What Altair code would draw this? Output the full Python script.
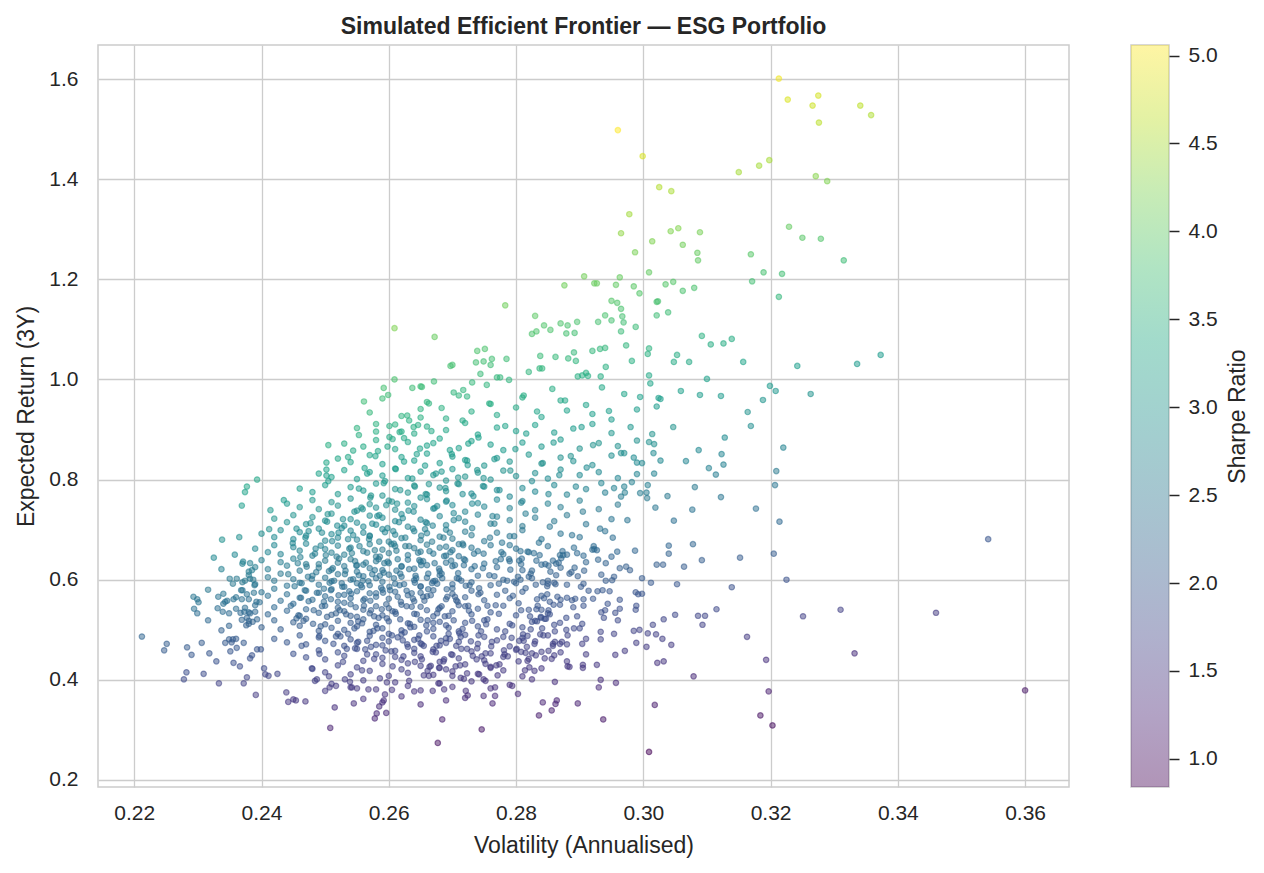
import altair as alt
import pandas as pd

# (volatility, expected return) pairs, grouped by region
upper_tail = [
    (0.2960, 1.498), (0.2999, 1.446), (0.3150, 1.414), (0.3025, 1.384), (0.3044, 1.376),
    (0.2978, 1.330), (0.2965, 1.292), (0.3043, 1.296), (0.3055, 1.302), (0.3089, 1.294),
    (0.3014, 1.276), (0.3062, 1.269), (0.2987, 1.254), (0.3085, 1.253), (0.3086, 1.238),
    (0.3009, 1.214), (0.2907, 1.206), (0.2963, 1.204), (0.2876, 1.188), (0.2923, 1.192),
    (0.2927, 1.192), (0.2957, 1.189), (0.2985, 1.186), (0.2994, 1.172), (0.3035, 1.190),
    (0.3047, 1.195), (0.3062, 1.177), (0.3080, 1.183), (0.2950, 1.157), (0.2959, 1.153),
    (0.3021, 1.155), (0.3023, 1.156), (0.2783, 1.148),
    (0.3213, 1.601), (0.3227, 1.559), (0.3275, 1.567), (0.3266, 1.547), (0.3341, 1.547),
    (0.3358, 1.528), (0.3276, 1.513), (0.3198, 1.438), (0.3182, 1.427), (0.3271, 1.406),
    (0.3289, 1.396), (0.3229, 1.305), (0.3250, 1.283), (0.3279, 1.281), (0.3169, 1.250),
    (0.3315, 1.238), (0.3189, 1.214), (0.3218, 1.211), (0.3171, 1.196), (0.3213, 1.165),
]

right_tail = [
    (0.3157, 1.035), (0.3242, 1.027), (0.3336, 1.031), (0.3373, 1.049), (0.3199, 0.987),
    (0.3208, 0.977), (0.3263, 0.971), (0.3188, 0.959), (0.3164, 0.935), (0.3169, 0.907),
    (0.3220, 0.864), (0.3209, 0.817), (0.3207, 0.789), (0.3177, 0.742), (0.3214, 0.716),
    (0.3542, 0.681), (0.3205, 0.652), (0.3225, 0.600), (0.3251, 0.527), (0.3310, 0.540),
    (0.3460, 0.534), (0.3163, 0.486), (0.3332, 0.453), (0.3193, 0.440), (0.3197, 0.377),
    (0.3600, 0.379), (0.3184, 0.329), (0.3203, 0.309),
]

upper_middle = [
    (0.2672, 1.085), (0.2739, 1.057), (0.2751, 1.061), (0.2697, 1.027), (0.2700, 1.029),
    (0.2737, 1.034), (0.2749, 1.036), (0.2762, 1.041), (0.2744, 1.011), (0.2760, 1.029),
    (0.2785, 1.041), (0.2770, 1.004), (0.2775, 1.004), (0.2731, 0.994), (0.2717, 0.979),
    (0.2723, 0.966), (0.2671, 0.996), (0.2652, 0.985), (0.2789, 0.999), (0.2830, 1.127),
    (0.2844, 1.108), (0.2854, 1.099), (0.2825, 1.091), (0.2832, 1.096), (0.2870, 1.112),
    (0.2881, 1.108), (0.2879, 1.092), (0.2892, 1.093), (0.2896, 1.115), (0.2929, 1.115),
    (0.2940, 1.128), (0.2950, 1.118), (0.2967, 1.126), (0.2969, 1.114), (0.2965, 1.096),
    (0.2988, 1.105), (0.2965, 1.141), (0.3039, 1.134), (0.3021, 1.128), (0.2973, 1.068),
    (0.2982, 1.037), (0.3009, 1.062), (0.3007, 1.051), (0.3009, 1.008), (0.3011, 0.992),
    (0.2920, 1.057), (0.2932, 1.061), (0.2940, 1.063), (0.2891, 1.054), (0.2894, 1.037),
    (0.2882, 1.042), (0.2862, 1.045), (0.2838, 1.047), (0.2837, 1.022), (0.2841, 1.022),
    (0.2820, 1.015), (0.2910, 1.013), (0.2913, 1.007), (0.2904, 1.008), (0.2897, 1.006),
    (0.2941, 1.025), (0.2933, 1.006), (0.2935, 0.984), (0.3053, 1.049), (0.3048, 1.035),
    (0.3072, 1.035), (0.3092, 1.087), (0.3106, 1.070), (0.3126, 1.072), (0.3139, 1.081),
    (0.3100, 1.001), (0.3059, 0.977), (0.3089, 0.969), (0.3122, 0.967), (0.3024, 0.963),
    (0.3027, 0.961), (0.3021, 0.946), (0.2995, 0.965), (0.3047, 0.905), (0.3014, 0.891),
    (0.3009, 0.875), (0.3017, 0.871), (0.3016, 0.853), (0.3027, 0.838), (0.3087, 0.859),
    (0.3067, 0.837), (0.3103, 0.823), (0.3123, 0.851), (0.3126, 0.830), (0.3114, 0.810),
    (0.3128, 0.884), (0.3081, 0.785), (0.3077, 0.740), (0.3048, 0.718), (0.3122, 0.765),
    (0.3038, 0.767), (0.3019, 0.744), (0.3005, 0.774), (0.3006, 0.763), (0.3007, 0.789),
    (0.3017, 0.812), (0.2998, 0.833), (0.2985, 0.844), (0.2965, 0.853), (0.2970, 0.853),
    (0.2982, 0.795), (0.2995, 0.773), (0.2965, 0.766), (0.2954, 0.783), (0.2971, 0.774),
]

left_arm = [
    (0.2609, 1.1025), (0.2609, 1.000), (0.2592, 0.983), (0.2599, 0.969), (0.2637, 0.983),
    (0.2650, 0.986), (0.2561, 0.956), (0.2629, 0.928), (0.2650, 0.924), (0.2580, 0.911),
    (0.2601, 0.907), (0.2639, 0.905), (0.2646, 0.909), (0.2553, 0.889), (0.2601, 0.885),
    (0.2617, 0.895), (0.2620, 0.896), (0.2505, 0.869), (0.2544, 0.858), (0.2536, 0.845),
    (0.2502, 0.834), (0.2502, 0.820), (0.2502, 0.808), (0.2505, 0.797), (0.2393, 0.800),
    (0.2377, 0.786), (0.2374, 0.775), (0.2369, 0.748), (0.2435, 0.759), (0.2414, 0.739),
    (0.2338, 0.680), (0.2365, 0.685), (0.2412, 0.701),
]

lower_right = [
    (0.3152, 0.644), (0.3092, 0.639), (0.3078, 0.671), (0.3040, 0.668), (0.3040, 0.652),
    (0.3021, 0.630), (0.3031, 0.630), (0.3064, 0.626), (0.3139, 0.585), (0.3053, 0.591),
    (0.3012, 0.594), (0.3115, 0.541), (0.3086, 0.528), (0.3097, 0.528), (0.3093, 0.510),
    (0.3050, 0.530), (0.3032, 0.521), (0.3015, 0.510), (0.3007, 0.493), (0.3020, 0.491),
    (0.3030, 0.482), (0.3044, 0.470), (0.3005, 0.466), (0.3022, 0.434), (0.3032, 0.437),
    (0.3079, 0.407), (0.3018, 0.350), (0.3009, 0.256), (0.2937, 0.321), (0.2897, 0.353),
    (0.2842, 0.355), (0.2862, 0.352), (0.2864, 0.359), (0.2856, 0.339), (0.2836, 0.329),
    (0.2930, 0.385), (0.2933, 0.400), (0.2957, 0.394), (0.2861, 0.396), (0.2825, 0.401),
    (0.2803, 0.372), (0.2794, 0.388), (0.2927, 0.430), (0.2905, 0.430), (0.2905, 0.424),
    (0.2881, 0.427), (0.2884, 0.426), (0.2956, 0.450), (0.2971, 0.458), (0.2989, 0.474),
    (0.2985, 0.498), (0.2994, 0.500), (0.2954, 0.492), (0.2933, 0.496), (0.2933, 0.481),
    (0.2904, 0.472), (0.2870, 0.455), (0.2851, 0.458), (0.2861, 0.497), (0.2891, 0.503),
    (0.2879, 0.500), (0.2881, 0.489), (0.2904, 0.512), (0.2896, 0.527), (0.2940, 0.539),
    (0.2934, 0.535), (0.2938, 0.524), (0.2956, 0.534), (0.2963, 0.542), (0.2960, 0.519),
    (0.2988, 0.540), (0.2989, 0.548), (0.2963, 0.560), (0.2992, 0.571), (0.2998, 0.572),
    (0.2988, 0.575), (0.2947, 0.577), (0.2936, 0.579), (0.2928, 0.577), (0.2921, 0.562),
    (0.2906, 0.561), (0.2906, 0.548), (0.2893, 0.562), (0.2888, 0.559), (0.2880, 0.564),
    (0.2934, 0.610), (0.2954, 0.606), (0.2951, 0.599), (0.2941, 0.598), (0.2973, 0.626),
    (0.2979, 0.619), (0.2906, 0.592), (0.2902, 0.586), (0.2892, 0.624), (0.2887, 0.615),
    (0.2884, 0.612), (0.2907, 0.618), (0.2929, 0.640), (0.2941, 0.633), (0.2950, 0.646),
    (0.2959, 0.656), (0.2922, 0.667), (0.2927, 0.659), (0.2906, 0.648), (0.2896, 0.653),
    (0.2891, 0.664),
]

lower_middle = [
    (0.2669, 0.378), (0.2687, 0.381), (0.2684, 0.321), (0.2677, 0.274), (0.2746, 0.301),
    (0.2721, 0.378), (0.2724, 0.369), (0.2749, 0.368), (0.2763, 0.353), (0.2767, 0.368),
    (0.2767, 0.385), (0.2749, 0.401), (0.2752, 0.398), (0.2742, 0.411), (0.2760, 0.424),
    (0.2774, 0.431), (0.2746, 0.447), (0.2713, 0.404), (0.2718, 0.402), (0.2700, 0.408),
    (0.2690, 0.421), (0.2679, 0.424), (0.2666, 0.428), (0.2655, 0.409), (0.2663, 0.408),
    (0.2851, 0.539), (0.2845, 0.522), (0.2839, 0.524), (0.2833, 0.517), (0.2861, 0.476),
    (0.2869, 0.472), (0.2858, 0.472), (0.2825, 0.453), (0.2815, 0.454), (0.2831, 0.449),
    (0.2808, 0.456), (0.2812, 0.478), (0.2805, 0.478), (0.2821, 0.425), (0.2814, 0.419),
    (0.2823, 0.501), (0.2818, 0.488), (0.2838, 0.491), (0.2839, 0.526), (0.2847, 0.522),
    (0.2825, 0.516), (0.2834, 0.548), (0.2832, 0.541), (0.2840, 0.540), (0.2853, 0.556),
    (0.2849, 0.571), (0.2865, 0.566), (0.2869, 0.550), (0.2859, 0.550), (0.2860, 0.594),
    (0.2850, 0.592), (0.2842, 0.595), (0.2831, 0.590), (0.2825, 0.603), (0.2863, 0.632),
    (0.2867, 0.634), (0.2869, 0.649), (0.2873, 0.657), (0.2874, 0.649), (0.2854, 0.616),
    (0.2851, 0.628), (0.2846, 0.631), (0.2858, 0.638), (0.2832, 0.638), (0.2828, 0.653),
    (0.2818, 0.656), (0.2809, 0.642), (0.2807, 0.657), (0.2805, 0.638), (0.2803, 0.606),
    (0.2807, 0.600), (0.2791, 0.620),
]

left_tail = [
    (0.2212, 0.4865), (0.2251, 0.472), (0.2247, 0.459), (0.2283, 0.465), (0.2290, 0.450),
    (0.2278, 0.401), (0.2282, 0.415), (0.2309, 0.412), (0.2306, 0.474), (0.2318, 0.453),
    (0.2329, 0.437), (0.2333, 0.393), (0.2356, 0.434), (0.2366, 0.427), (0.2372, 0.393),
    (0.2377, 0.405), (0.2391, 0.370), (0.2382, 0.443), (0.2385, 0.449), (0.2393, 0.461),
    (0.2399, 0.461), (0.2343, 0.474), (0.2349, 0.481), (0.2355, 0.481), (0.2360, 0.482),
    (0.2353, 0.475), (0.2372, 0.474), (0.2361, 0.464), (0.2351, 0.457), (0.2337, 0.499),
    (0.2349, 0.508), (0.2316, 0.519), (0.2294, 0.542), (0.2299, 0.533), (0.2293, 0.566),
    (0.2301, 0.555), (0.2299, 0.561), (0.2316, 0.580), (0.2332, 0.566), (0.2331, 0.543),
    (0.2343, 0.556), (0.2340, 0.552), (0.2346, 0.558), (0.2356, 0.561), (0.2349, 0.533),
    (0.2339, 0.536), (0.2325, 0.644), (0.2337, 0.621), (0.2358, 0.650), (0.2371, 0.636),
    (0.2382, 0.633), (0.2385, 0.619), (0.2380, 0.616), (0.2355, 0.592), (0.2361, 0.602),
    (0.2374, 0.598), (0.2382, 0.602), (0.2387, 0.600), (0.2389, 0.589), (0.2368, 0.579),
    (0.2377, 0.571), (0.2388, 0.574), (0.2369, 0.561), (0.2374, 0.544), (0.2367, 0.534),
    (0.2373, 0.536), (0.2382, 0.533), (0.2377, 0.524), (0.2369, 0.520), (0.2386, 0.516),
    (0.2376, 0.509), (0.2380, 0.518), (0.2393, 0.521), (0.2390, 0.536), (0.2397, 0.555),
    (0.2392, 0.556),
]

bottom_fringe = [
    (0.2439, 0.375), (0.2442, 0.356), (0.2450, 0.361), (0.2454, 0.359), (0.2469, 0.357),
    (0.2515, 0.345), (0.2508, 0.304), (0.2545, 0.353), (0.2578, 0.323), (0.2581, 0.333),
    (0.2585, 0.347), (0.2596, 0.334), (0.2592, 0.359), (0.2594, 0.371), (0.2640, 0.377),
    (0.2406, 0.411), (0.2411, 0.408), (0.2425, 0.412), (0.2404, 0.423), (0.2484, 0.398),
    (0.2487, 0.401), (0.2500, 0.378), (0.2507, 0.385), (0.2517, 0.388), (0.2531, 0.401),
    (0.2542, 0.385), (0.2550, 0.383), (0.2568, 0.381), (0.2597, 0.395), (0.2605, 0.380),
]

# dense body, estimated band by band (returns 0.96 down to 0.78)
core_upper = [
    (0.259, 0.962), (0.266, 0.955), (0.271, 0.968), (0.276, 0.951), (0.281, 0.964), (0.287, 0.958),
    (0.291, 0.949), (0.297, 0.971),
    (0.257, 0.934), (0.262, 0.927), (0.265, 0.941), (0.269, 0.922), (0.273, 0.936), (0.277, 0.929),
    (0.280, 0.944), (0.284, 0.925), (0.288, 0.938), (0.292, 0.931), (0.295, 0.920), (0.299, 0.940),
    (0.255, 0.903), (0.258, 0.896), (0.261, 0.910), (0.264, 0.892), (0.266, 0.906), (0.269, 0.899),
    (0.272, 0.913), (0.274, 0.890), (0.277, 0.904), (0.280, 0.897), (0.283, 0.909), (0.286, 0.894),
    (0.289, 0.902), (0.292, 0.911), (0.295, 0.893), (0.298, 0.905),
    (0.253, 0.872), (0.256, 0.866), (0.258, 0.879), (0.261, 0.861), (0.263, 0.875), (0.266, 0.868),
    (0.268, 0.882), (0.271, 0.863), (0.273, 0.877), (0.276, 0.870), (0.278, 0.859), (0.281, 0.874),
    (0.284, 0.866), (0.287, 0.880), (0.290, 0.862), (0.293, 0.873), (0.296, 0.867), (0.299, 0.878),
    (0.252, 0.842), (0.254, 0.835), (0.257, 0.849), (0.259, 0.831), (0.262, 0.845), (0.264, 0.838),
    (0.266, 0.852), (0.268, 0.833), (0.270, 0.846), (0.272, 0.839), (0.275, 0.828), (0.277, 0.843),
    (0.279, 0.836), (0.282, 0.850), (0.284, 0.832), (0.287, 0.844), (0.289, 0.837), (0.292, 0.829),
    (0.295, 0.848), (0.299, 0.834),
    (0.249, 0.812), (0.251, 0.805), (0.253, 0.819), (0.255, 0.801), (0.257, 0.815), (0.259, 0.808),
    (0.261, 0.822), (0.263, 0.803), (0.265, 0.816), (0.267, 0.809), (0.269, 0.798), (0.270, 0.821),
    (0.272, 0.806), (0.274, 0.814), (0.276, 0.800), (0.278, 0.818), (0.280, 0.807), (0.283, 0.813),
    (0.285, 0.802), (0.287, 0.820), (0.290, 0.809), (0.293, 0.815), (0.296, 0.803), (0.299, 0.811),
    (0.246, 0.782), (0.248, 0.775), (0.250, 0.789), (0.252, 0.771), (0.254, 0.785), (0.256, 0.778),
    (0.258, 0.792), (0.259, 0.768), (0.261, 0.781), (0.263, 0.774), (0.264, 0.788), (0.266, 0.770),
    (0.268, 0.784), (0.269, 0.777), (0.271, 0.791), (0.273, 0.772), (0.275, 0.786), (0.277, 0.779),
    (0.279, 0.766), (0.281, 0.783), (0.283, 0.776), (0.286, 0.789), (0.288, 0.770), (0.291, 0.781),
    (0.294, 0.774), (0.297, 0.786),
]

# returns 0.75 down to 0.57
core_middle = [
    (0.244, 0.752), (0.246, 0.745), (0.248, 0.759), (0.249, 0.741), (0.251, 0.755), (0.252, 0.748),
    (0.254, 0.762), (0.255, 0.738), (0.257, 0.751), (0.258, 0.744), (0.260, 0.758), (0.261, 0.740),
    (0.263, 0.754), (0.264, 0.747), (0.266, 0.761), (0.267, 0.742), (0.269, 0.756), (0.270, 0.749),
    (0.272, 0.736), (0.274, 0.753), (0.275, 0.746), (0.277, 0.760), (0.279, 0.743), (0.281, 0.757),
    (0.283, 0.739), (0.285, 0.752), (0.287, 0.745), (0.290, 0.758), (0.293, 0.741), (0.296, 0.750),
    (0.242, 0.722), (0.244, 0.715), (0.245, 0.729), (0.247, 0.711), (0.248, 0.725), (0.250, 0.718),
    (0.251, 0.732), (0.253, 0.708), (0.254, 0.721), (0.255, 0.714), (0.257, 0.728), (0.258, 0.710),
    (0.259, 0.724), (0.261, 0.717), (0.262, 0.731), (0.263, 0.706), (0.265, 0.720), (0.266, 0.713),
    (0.268, 0.727), (0.269, 0.709), (0.271, 0.723), (0.272, 0.716), (0.274, 0.730), (0.276, 0.712),
    (0.277, 0.726), (0.279, 0.719), (0.281, 0.707), (0.283, 0.724), (0.286, 0.717), (0.288, 0.729),
    (0.291, 0.711), (0.295, 0.721),
    (0.240, 0.692), (0.242, 0.685), (0.243, 0.699), (0.245, 0.681), (0.246, 0.695), (0.247, 0.688),
    (0.249, 0.702), (0.250, 0.678), (0.251, 0.691), (0.252, 0.684), (0.254, 0.698), (0.255, 0.680),
    (0.256, 0.694), (0.257, 0.687), (0.259, 0.701), (0.260, 0.676), (0.261, 0.690), (0.262, 0.683),
    (0.264, 0.697), (0.265, 0.679), (0.266, 0.693), (0.268, 0.686), (0.269, 0.700), (0.270, 0.682),
    (0.272, 0.696), (0.273, 0.689), (0.275, 0.677), (0.277, 0.694), (0.279, 0.687), (0.281, 0.699),
    (0.284, 0.681), (0.287, 0.692), (0.290, 0.685), (0.294, 0.697),
    (0.239, 0.662), (0.241, 0.655), (0.242, 0.669), (0.243, 0.651), (0.245, 0.665), (0.246, 0.658),
    (0.247, 0.672), (0.248, 0.648), (0.250, 0.661), (0.251, 0.654), (0.252, 0.668), (0.253, 0.650),
    (0.254, 0.664), (0.256, 0.657), (0.257, 0.671), (0.258, 0.646), (0.259, 0.660), (0.260, 0.653),
    (0.261, 0.667), (0.263, 0.649), (0.264, 0.663), (0.265, 0.656), (0.266, 0.670), (0.267, 0.652),
    (0.269, 0.666), (0.270, 0.659), (0.271, 0.647), (0.273, 0.664), (0.274, 0.657), (0.276, 0.669),
    (0.278, 0.651), (0.280, 0.662), (0.282, 0.655), (0.285, 0.667), (0.288, 0.650), (0.292, 0.660),
    (0.237, 0.632), (0.239, 0.625), (0.240, 0.639), (0.241, 0.621), (0.243, 0.635), (0.244, 0.628),
    (0.245, 0.642), (0.246, 0.618), (0.247, 0.631), (0.249, 0.624), (0.250, 0.638), (0.251, 0.620),
    (0.252, 0.634), (0.253, 0.627), (0.254, 0.641), (0.255, 0.616), (0.256, 0.630), (0.257, 0.623),
    (0.258, 0.637), (0.259, 0.619), (0.260, 0.633), (0.262, 0.626), (0.263, 0.640), (0.264, 0.622),
    (0.265, 0.636), (0.266, 0.629), (0.268, 0.617), (0.269, 0.634), (0.270, 0.627), (0.272, 0.639),
    (0.273, 0.621), (0.275, 0.632), (0.277, 0.625), (0.279, 0.637), (0.281, 0.619), (0.284, 0.630),
    (0.287, 0.624), (0.291, 0.635),
    (0.235, 0.602), (0.237, 0.595), (0.238, 0.609), (0.239, 0.591), (0.241, 0.605), (0.242, 0.598),
    (0.243, 0.612), (0.244, 0.588), (0.245, 0.601), (0.246, 0.594), (0.248, 0.608), (0.249, 0.590),
    (0.250, 0.604), (0.251, 0.597), (0.252, 0.611), (0.253, 0.586), (0.254, 0.600), (0.255, 0.593),
    (0.256, 0.607), (0.257, 0.589), (0.258, 0.603), (0.259, 0.596), (0.260, 0.610), (0.261, 0.592),
    (0.262, 0.606), (0.264, 0.599), (0.265, 0.587), (0.266, 0.604), (0.267, 0.597), (0.268, 0.609),
    (0.270, 0.591), (0.271, 0.602), (0.273, 0.595), (0.274, 0.608), (0.276, 0.589), (0.278, 0.600),
    (0.280, 0.593), (0.282, 0.606), (0.285, 0.598), (0.288, 0.590),
    (0.234, 0.572), (0.236, 0.565), (0.237, 0.579), (0.238, 0.561), (0.240, 0.575), (0.241, 0.568),
    (0.242, 0.582), (0.243, 0.558), (0.244, 0.571), (0.246, 0.564), (0.247, 0.578), (0.248, 0.560),
    (0.249, 0.574), (0.250, 0.567), (0.251, 0.581), (0.252, 0.556), (0.253, 0.570), (0.254, 0.563),
    (0.255, 0.577), (0.256, 0.559), (0.257, 0.573), (0.258, 0.566), (0.259, 0.580), (0.260, 0.562),
    (0.261, 0.576), (0.263, 0.569), (0.264, 0.557), (0.265, 0.574), (0.266, 0.567), (0.267, 0.579),
    (0.269, 0.561), (0.270, 0.572), (0.272, 0.565), (0.273, 0.578), (0.275, 0.559), (0.277, 0.570),
    (0.279, 0.563), (0.281, 0.576), (0.284, 0.568), (0.287, 0.560),
]

# returns 0.54 down to 0.36
core_lower = [
    (0.236, 0.542), (0.238, 0.535), (0.239, 0.549), (0.241, 0.531), (0.242, 0.545), (0.244, 0.538),
    (0.245, 0.552), (0.246, 0.528), (0.247, 0.541), (0.249, 0.534), (0.250, 0.548), (0.251, 0.530),
    (0.252, 0.544), (0.253, 0.537), (0.254, 0.551), (0.255, 0.526), (0.256, 0.540), (0.257, 0.533),
    (0.258, 0.547), (0.259, 0.529), (0.260, 0.543), (0.261, 0.536), (0.262, 0.550), (0.264, 0.532),
    (0.265, 0.546), (0.266, 0.539), (0.267, 0.527), (0.268, 0.544), (0.270, 0.537), (0.271, 0.549),
    (0.273, 0.531), (0.274, 0.542), (0.276, 0.535), (0.278, 0.548), (0.280, 0.529), (0.282, 0.540),
    (0.285, 0.533), (0.289, 0.545),
    (0.238, 0.512), (0.240, 0.505), (0.242, 0.519), (0.243, 0.501), (0.245, 0.515), (0.246, 0.508),
    (0.247, 0.522), (0.249, 0.498), (0.250, 0.511), (0.251, 0.504), (0.252, 0.518), (0.253, 0.500),
    (0.254, 0.514), (0.255, 0.507), (0.256, 0.521), (0.257, 0.496), (0.258, 0.510), (0.259, 0.503),
    (0.260, 0.517), (0.262, 0.499), (0.263, 0.513), (0.264, 0.506), (0.265, 0.520), (0.267, 0.502),
    (0.268, 0.516), (0.269, 0.509), (0.271, 0.497), (0.272, 0.514), (0.274, 0.507), (0.275, 0.519),
    (0.277, 0.501), (0.279, 0.512), (0.281, 0.505), (0.283, 0.518), (0.286, 0.510), (0.290, 0.503),
    (0.242, 0.482), (0.244, 0.475), (0.246, 0.489), (0.247, 0.471), (0.249, 0.485), (0.250, 0.478),
    (0.252, 0.492), (0.253, 0.468), (0.254, 0.481), (0.255, 0.474), (0.257, 0.488), (0.258, 0.470),
    (0.259, 0.484), (0.260, 0.477), (0.262, 0.491), (0.263, 0.466), (0.264, 0.480), (0.265, 0.473),
    (0.267, 0.487), (0.268, 0.469), (0.269, 0.483), (0.271, 0.476), (0.272, 0.490), (0.274, 0.472),
    (0.275, 0.486), (0.277, 0.479), (0.279, 0.467), (0.281, 0.484), (0.283, 0.477), (0.285, 0.489),
    (0.288, 0.471), (0.291, 0.482),
    (0.245, 0.452), (0.247, 0.445), (0.249, 0.459), (0.250, 0.441), (0.252, 0.455), (0.253, 0.448),
    (0.255, 0.462), (0.256, 0.438), (0.258, 0.451), (0.259, 0.444), (0.261, 0.458), (0.262, 0.440),
    (0.264, 0.454), (0.265, 0.447), (0.267, 0.461), (0.268, 0.436), (0.270, 0.450), (0.271, 0.443),
    (0.273, 0.457), (0.275, 0.439), (0.276, 0.453), (0.278, 0.446), (0.280, 0.460), (0.282, 0.442),
    (0.284, 0.456), (0.286, 0.449), (0.288, 0.437), (0.291, 0.451),
    (0.248, 0.422), (0.250, 0.415), (0.252, 0.429), (0.254, 0.411), (0.255, 0.425), (0.257, 0.418),
    (0.259, 0.432), (0.260, 0.408), (0.262, 0.421), (0.263, 0.414), (0.265, 0.428), (0.267, 0.410),
    (0.268, 0.424), (0.270, 0.417), (0.272, 0.431), (0.274, 0.412), (0.276, 0.426), (0.278, 0.419),
    (0.281, 0.407), (0.284, 0.423),
    (0.251, 0.392), (0.254, 0.385), (0.256, 0.399), (0.258, 0.381), (0.261, 0.395), (0.263, 0.388),
    (0.265, 0.379), (0.268, 0.393), (0.270, 0.386), (0.273, 0.397), (0.276, 0.383), (0.279, 0.390),
    (0.256, 0.362), (0.259, 0.355), (0.262, 0.367), (0.265, 0.351), (0.269, 0.359), (0.272, 0.364),
]

# extra points where the cloud is thickest (vol 0.245-0.28, return 0.46-0.75)
core_dense = [
    (0.2495, 0.547), (0.2512, 0.623), (0.2527, 0.586), (0.2538, 0.662), (0.2546, 0.503),
    (0.2553, 0.609), (0.2561, 0.548), (0.2569, 0.681), (0.2577, 0.527), (0.2584, 0.641),
    (0.2591, 0.574), (0.2598, 0.703), (0.2605, 0.489), (0.2612, 0.618), (0.2619, 0.556),
    (0.2626, 0.667), (0.2633, 0.512), (0.2641, 0.594), (0.2648, 0.639), (0.2655, 0.468),
    (0.2662, 0.581), (0.2669, 0.708), (0.2676, 0.533), (0.2683, 0.612), (0.2690, 0.474),
    (0.2697, 0.655), (0.2704, 0.566), (0.2711, 0.493), (0.2718, 0.629), (0.2725, 0.548),
    (0.2509, 0.579), (0.2521, 0.694), (0.2533, 0.531), (0.2547, 0.637), (0.2558, 0.585),
    (0.2572, 0.466), (0.2586, 0.608), (0.2597, 0.523), (0.2608, 0.672), (0.2617, 0.589),
    (0.2629, 0.471), (0.2638, 0.562), (0.2651, 0.688), (0.2659, 0.509), (0.2673, 0.598),
    (0.2687, 0.647), (0.2694, 0.528), (0.2707, 0.603), (0.2716, 0.672), (0.2729, 0.477),
    (0.2742, 0.583), (0.2755, 0.521), (0.2768, 0.637), (0.2781, 0.459), (0.2473, 0.606),
    (0.2462, 0.564), (0.2484, 0.652), (0.2455, 0.523), (0.2491, 0.488), (0.2503, 0.716),
    (0.2457, 0.633), (0.2468, 0.579), (0.2474, 0.697), (0.2481, 0.512), (0.2486, 0.615),
    (0.2493, 0.668), (0.2498, 0.556), (0.2504, 0.731), (0.2507, 0.594), (0.2513, 0.472),
    (0.2518, 0.646), (0.2523, 0.539), (0.2526, 0.703), (0.2531, 0.611), (0.2536, 0.492),
    (0.2541, 0.572), (0.2544, 0.689), (0.2549, 0.628), (0.2552, 0.517), (0.2557, 0.744),
    (0.2559, 0.598), (0.2563, 0.461), (0.2566, 0.654), (0.2571, 0.558), (0.2574, 0.712),
    (0.2578, 0.619), (0.2582, 0.503), (0.2585, 0.676), (0.2589, 0.541), (0.2593, 0.633),
    (0.2596, 0.749), (0.2601, 0.586), (0.2604, 0.457), (0.2607, 0.697), (0.2611, 0.532),
    (0.2614, 0.641), (0.2618, 0.612), (0.2622, 0.723), (0.2625, 0.495), (0.2628, 0.578),
    (0.2632, 0.667), (0.2636, 0.546), (0.2639, 0.736), (0.2643, 0.603), (0.2646, 0.482),
    (0.2651, 0.629), (0.2654, 0.566), (0.2657, 0.701), (0.2661, 0.519), (0.2664, 0.657),
    (0.2668, 0.593), (0.2672, 0.743), (0.2675, 0.468), (0.2679, 0.622), (0.2683, 0.547),
    (0.2686, 0.684), (0.2691, 0.581), (0.2694, 0.504), (0.2698, 0.638), (0.2702, 0.719),
    (0.2706, 0.559), (0.2709, 0.613), (0.2713, 0.486), (0.2717, 0.669), (0.2721, 0.588),
    (0.2726, 0.538), (0.2731, 0.703), (0.2735, 0.627), (0.2739, 0.463), (0.2744, 0.574),
    (0.2749, 0.652), (0.2753, 0.511), (0.2758, 0.609), (0.2763, 0.727), (0.2768, 0.549),
    (0.2773, 0.592), (0.2778, 0.674), (0.2783, 0.497), (0.2789, 0.641), (0.2795, 0.568),
]

# a further layer over the heaviest part of the cloud
core_heavy = [
    (0.2442, 0.611), (0.2446, 0.548), (0.2449, 0.673), (0.2452, 0.587), (0.2455, 0.702),
    (0.2458, 0.529), (0.2461, 0.645), (0.2463, 0.593), (0.2466, 0.518), (0.2469, 0.684),
    (0.2471, 0.626), (0.2474, 0.557), (0.2477, 0.713), (0.2479, 0.601), (0.2482, 0.539),
    (0.2485, 0.662), (0.2487, 0.574), (0.2490, 0.631), (0.2493, 0.507), (0.2495, 0.694),
    (0.2498, 0.582), (0.2501, 0.649), (0.2503, 0.526), (0.2506, 0.617), (0.2509, 0.561),
    (0.2511, 0.677), (0.2514, 0.598), (0.2517, 0.533), (0.2519, 0.708), (0.2521, 0.569),
    (0.2522, 0.642), (0.2524, 0.487), (0.2526, 0.593), (0.2528, 0.721), (0.2530, 0.554),
    (0.2532, 0.618), (0.2534, 0.462), (0.2536, 0.681), (0.2538, 0.577), (0.2540, 0.528),
    (0.2542, 0.653), (0.2544, 0.601), (0.2546, 0.736), (0.2548, 0.545), (0.2550, 0.629),
    (0.2552, 0.476), (0.2554, 0.667), (0.2556, 0.589), (0.2558, 0.513), (0.2560, 0.706),
    (0.2562, 0.562), (0.2564, 0.634), (0.2566, 0.451), (0.2568, 0.597), (0.2570, 0.688),
    (0.2572, 0.539), (0.2574, 0.611), (0.2576, 0.498), (0.2578, 0.659), (0.2580, 0.573),
    (0.2582, 0.727), (0.2584, 0.524), (0.2586, 0.646), (0.2588, 0.584), (0.2590, 0.469),
    (0.2592, 0.614), (0.2594, 0.695), (0.2596, 0.551), (0.2598, 0.636), (0.2600, 0.492),
    (0.2602, 0.579), (0.2604, 0.671), (0.2606, 0.537), (0.2608, 0.603), (0.2610, 0.446),
    (0.2612, 0.658), (0.2614, 0.566), (0.2616, 0.715), (0.2618, 0.521), (0.2620, 0.627),
    (0.2622, 0.479), (0.2624, 0.591), (0.2626, 0.684), (0.2628, 0.547), (0.2630, 0.433),
    (0.2632, 0.621), (0.2634, 0.505), (0.2636, 0.573), (0.2638, 0.702), (0.2640, 0.462),
    (0.2642, 0.608), (0.2644, 0.531), (0.2646, 0.654), (0.2648, 0.489), (0.2650, 0.586),
    (0.2652, 0.441), (0.2654, 0.637), (0.2656, 0.558), (0.2658, 0.715), (0.2660, 0.497),
    (0.2662, 0.612), (0.2664, 0.426), (0.2666, 0.569), (0.2668, 0.676), (0.2670, 0.514),
    (0.2672, 0.633), (0.2674, 0.455), (0.2676, 0.592), (0.2678, 0.541), (0.2680, 0.664),
    (0.2682, 0.478), (0.2684, 0.603), (0.2686, 0.437), (0.2688, 0.527), (0.2690, 0.648),
    (0.2692, 0.566), (0.2694, 0.492), (0.2696, 0.694), (0.2698, 0.451), (0.2700, 0.583),
    (0.2702, 0.519), (0.2704, 0.629), (0.2706, 0.468), (0.2708, 0.556), (0.2710, 0.671),
    (0.2712, 0.429), (0.2714, 0.598), (0.2716, 0.502), (0.2718, 0.641), (0.2720, 0.547),
    (0.2723, 0.462), (0.2727, 0.589), (0.2731, 0.518), (0.2734, 0.652), (0.2738, 0.441),
    (0.2741, 0.571), (0.2745, 0.497), (0.2748, 0.623), (0.2752, 0.453), (0.2755, 0.548),
    (0.2759, 0.684), (0.2762, 0.476), (0.2766, 0.607), (0.2769, 0.429), (0.2773, 0.532),
    (0.2776, 0.641), (0.2780, 0.486), (0.2783, 0.578), (0.2787, 0.447), (0.2790, 0.669),
    (0.2794, 0.509), (0.2797, 0.596), (0.2801, 0.462), (0.2804, 0.553), (0.2808, 0.631),
    (0.2811, 0.491), (0.2815, 0.583), (0.2818, 0.438), (0.2822, 0.527), (0.2825, 0.618),
    (0.2829, 0.472), (0.2833, 0.561), (0.2837, 0.649), (0.2841, 0.503), (0.2845, 0.443),
    (0.2849, 0.587), (0.2853, 0.531), (0.2858, 0.468), (0.2863, 0.609), (0.2869, 0.514),
    (0.2553, 0.782), (0.2559, 0.741), (0.2566, 0.812), (0.2572, 0.768), (0.2579, 0.847),
    (0.2585, 0.729), (0.2592, 0.793), (0.2598, 0.866), (0.2605, 0.756), (0.2611, 0.821),
    (0.2618, 0.779), (0.2624, 0.883), (0.2631, 0.738), (0.2637, 0.802), (0.2644, 0.851),
    (0.2650, 0.764), (0.2657, 0.828), (0.2663, 0.791), (0.2670, 0.873), (0.2676, 0.747),
    (0.2683, 0.816), (0.2689, 0.783), (0.2696, 0.859), (0.2702, 0.733), (0.2709, 0.804),
    (0.2716, 0.771), (0.2723, 0.838), (0.2731, 0.752), (0.2739, 0.819), (0.2748, 0.787),
]

# extra points in the upper body (vol 0.255-0.295, return 0.74-0.99)
core_rise = [
    (0.2562, 0.823), (0.2571, 0.764), (0.2583, 0.857), (0.2594, 0.797), (0.2606, 0.881),
    (0.2613, 0.752), (0.2624, 0.836), (0.2632, 0.918), (0.2641, 0.786), (0.2649, 0.862),
    (0.2658, 0.771), (0.2667, 0.897), (0.2674, 0.812), (0.2683, 0.943), (0.2691, 0.758),
    (0.2699, 0.851), (0.2708, 0.792), (0.2716, 0.918), (0.2724, 0.829), (0.2733, 0.767),
    (0.2741, 0.884), (0.2749, 0.803), (0.2758, 0.952), (0.2766, 0.841), (0.2774, 0.779),
    (0.2783, 0.907), (0.2791, 0.818), (0.2799, 0.861), (0.2808, 0.754), (0.2816, 0.892),
    (0.2825, 0.797), (0.2833, 0.936), (0.2842, 0.833), (0.2851, 0.771), (0.2859, 0.874),
    (0.2868, 0.809), (0.2877, 0.958), (0.2886, 0.847), (0.2894, 0.786), (0.2903, 0.905),
    (0.2911, 0.824), (0.2921, 0.869), (0.2934, 0.793), (0.2946, 0.937), (0.2663, 0.952),
    (0.2702, 0.974), (0.2754, 0.989), (0.2812, 0.968), (0.2857, 0.981), (0.2725, 0.872),
]

# extra points in the low-return band and right of the body
core_low_band = [
    (0.2463, 0.468), (0.2479, 0.423), (0.2491, 0.452), (0.2506, 0.407), (0.2517, 0.487),
    (0.2528, 0.436), (0.2539, 0.396), (0.2547, 0.463), (0.2558, 0.419), (0.2566, 0.478),
    (0.2577, 0.442), (0.2586, 0.403), (0.2595, 0.459), (0.2606, 0.427), (0.2614, 0.485),
    (0.2623, 0.447), (0.2632, 0.398), (0.2641, 0.436), (0.2652, 0.471), (0.2661, 0.418),
    (0.2669, 0.456), (0.2678, 0.393), (0.2687, 0.441), (0.2696, 0.482), (0.2705, 0.427),
    (0.2714, 0.462), (0.2723, 0.413), (0.2732, 0.448), (0.2741, 0.489), (0.2752, 0.432),
    (0.2761, 0.467), (0.2771, 0.409), (0.2782, 0.451), (0.2793, 0.484), (0.2804, 0.437),
    (0.2817, 0.466), (0.2829, 0.418), (0.2843, 0.489), (0.2856, 0.442), (0.2872, 0.476),
    (0.2766, 0.712), (0.2777, 0.655), (0.2786, 0.598), (0.2797, 0.687), (0.2808, 0.539),
    (0.2815, 0.732), (0.2823, 0.612), (0.2836, 0.674), (0.2844, 0.563), (0.2853, 0.706),
    (0.2862, 0.591), (0.2871, 0.643), (0.2879, 0.524), (0.2888, 0.689), (0.2897, 0.607),
    (0.2905, 0.736), (0.2914, 0.578), (0.2923, 0.661), (0.2932, 0.702), (0.2944, 0.552),
    (0.2952, 0.684), (0.2963, 0.623), (0.2975, 0.719), (0.2987, 0.658), (0.2998, 0.603),
]

x_ticks = [0.22, 0.24, 0.26, 0.28, 0.30, 0.32, 0.34, 0.36]
y_ticks = [0.2, 0.4, 0.6, 0.8, 1.0, 1.2, 1.4, 1.6]
sharpe_ticks = [1.0, 1.5, 2.0, 2.5, 3.0, 3.5, 4.0, 4.5, 5.0]

VOL_DOMAIN = [0.2143, 0.3669]
RET_DOMAIN = [0.186, 1.668]
SHARPE_DOMAIN = [0.84, 5.06]

TXT = "#262626"
GRID = "#cccccc"
FONT = "Liberation Sans"
VIRIDIS = ["#440154", "#482475", "#414487", "#355f8d", "#2a788e", "#21918c",
           "#22a884", "#44bf70", "#7ad151", "#bddf26", "#fde725"]

points = (core_lower + core_low_band + core_middle + core_dense + core_heavy + core_upper
          + core_rise + bottom_fringe + left_tail + lower_middle + lower_right + left_arm
          + upper_middle + right_tail + upper_tail)
df = pd.DataFrame(points, columns=["vol", "ret"])

sharpe_scale = alt.Scale(domain=SHARPE_DOMAIN, range=VIRIDIS)

scatter = (
    alt.Chart(df)
    .transform_calculate(sharpe="datum.ret / datum.vol")
    .mark_circle(size=30, fillOpacity=0.5, strokeOpacity=0.55, strokeWidth=1.2)
    .encode(
        x=alt.X("vol:Q", scale=alt.Scale(domain=VOL_DOMAIN, nice=False, zero=False),
                axis=alt.Axis(values=x_ticks, format=".2f", title="Volatility (Annualised)",
                              labelPadding=15, titlePadding=11)),
        y=alt.Y("ret:Q", scale=alt.Scale(domain=RET_DOMAIN, nice=False, zero=False),
                axis=alt.Axis(values=y_ticks, format=".1f", title="Expected Return (3Y)",
                              labelPadding=20, titlePadding=10)),
        color=alt.Color("sharpe:Q", scale=sharpe_scale, legend=None),
        stroke=alt.Stroke("sharpe:Q", scale=sharpe_scale, legend=None),
    )
    .properties(
        width=971, height=742,
        title=alt.TitleParams("Simulated Efficient Frontier — ESG Portfolio",
                              fontSize=23, fontWeight="bold", color=TXT, offset=6),
    )
)

# colour bar drawn as a gradient rect with its own right-hand axis
gradient = {
    "gradient": "linear", "x1": 0, "x2": 0, "y1": 1, "y2": 0,
    "stops": [{"offset": i / 10, "color": c} for i, c in enumerate(VIRIDIS)],
}
colorbar = (
    alt.Chart(pd.DataFrame({"lo": [SHARPE_DOMAIN[0]], "hi": [SHARPE_DOMAIN[1]]}))
    .mark_rect(fill=gradient, fillOpacity=0.42)
    .encode(
        x=alt.value(0), x2=alt.value(38),
        y=alt.Y("lo:Q", scale=alt.Scale(domain=SHARPE_DOMAIN, nice=False, zero=False),
                axis=alt.Axis(orient="right", values=sharpe_ticks, format=".1f",
                              grid=False, ticks=True, tickSize=10, tickColor=TXT,
                              tickWidth=1.5, labelPadding=9, title="Sharpe Ratio",
                              titleAngle=270, titleBaseline="top", titlePadding=9)),
        y2="hi:Q",
    )
    .properties(width=38, height=742)
)

chart = (
    alt.hconcat(scatter, colorbar, spacing=60)
    .properties(padding={"left": 7, "top": 7, "right": 5, "bottom": 5})
    .configure(font=FONT, background="white")
    .configure_view(stroke=GRID, strokeWidth=1.5)
    .configure_axis(
        grid=True, gridColor=GRID, gridWidth=1.3, domain=False, ticks=False, tickSize=0,
        labelFont=FONT, labelFontSize=21, labelColor=TXT,
        titleFont=FONT, titleFontSize=23, titleColor=TXT, titleFontWeight="normal",
    )
)

chart.save("out.html", embed_options={"renderer": "svg", "actions": False})
